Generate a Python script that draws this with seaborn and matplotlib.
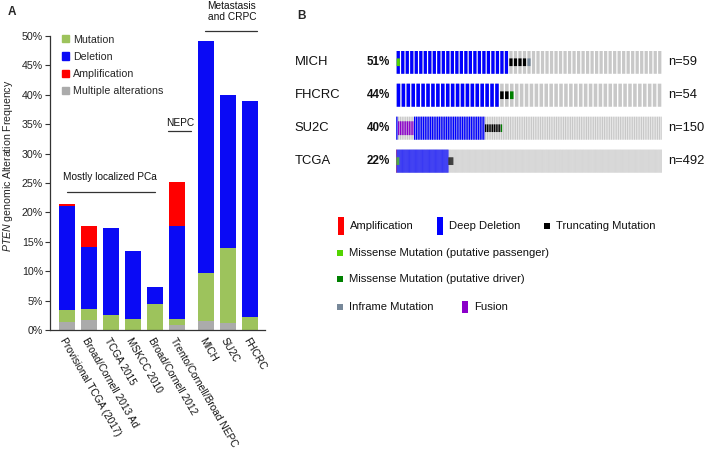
import numpy as np
import pandas as pd
import seaborn as sns
import matplotlib.pyplot as plt
import matplotlib.transforms as mtransforms
from matplotlib.patches import Patch, Rectangle

# ---- panel A data (percent of cases) ----
studies = ["Provisional TCGA (2017)", "Broad/Cornell 2013 Ad", "TCGA 2015",
           "MSKCC 2010", "Broad/Cornell 2012", "Trento/Cornell/Broad NEPC",
           "MICH", "SU2C", "FHCRC"]
multiple = [1.4, 1.7, 0.0, 0.0, 0.0, 0.85, 1.6, 1.25, 0.0]
mutation = [2.0, 1.8, 2.55, 1.8, 4.5, 0.95, 8.15, 12.65, 2.15]
deletion = [17.7, 10.6, 14.75, 11.7, 2.8, 15.9, 39.35, 26.1, 36.75]
amplification = [0.3, 3.6, 0.0, 0.0, 0.0, 7.4, 0.0, 0.0, 0.0]
y_ticks = [0, 5, 10, 15, 20, 25, 30, 35, 40, 45, 50]

# ---- panel B data (oncoprint rows) ----
cohorts = ["MICH", "FHCRC", "SU2C", "TCGA"]
cohort_n = [59, 54, 150, 492]
cohort_pct = ["51%", "44%", "40%", "22%"]
# runs of samples: (copy number, mutation, count)
mich_runs = [("del", "passenger", 1), ("del", None, 24), (None, "truncating", 4), (None, "inframe", 1)]
fhcrc_runs = [("del", None, 21), (None, "truncating", 2), (None, "driver", 1)]
su2c_runs = [("del", None, 1), (None, "fusion", 9), ("del", None, 40), (None, "truncating", 9), (None, "driver", 1)]
tcga_runs = [("amp", None, 1), ("del", "passenger", 5), ("del", None, 91), (None, "truncating", 9)]
cohort_runs = [mich_runs, fhcrc_runs, su2c_runs, tcga_runs]

GREEN_A, BLUE_A, RED_A, GREY_A = "#9dc35c", "#0a0af5", "#ff0000", "#ababab"
onco_colors = {"amp": "#ff0000", "del": "#0000ff", "truncating": "#000000",
               "passenger": "#53d400", "driver": "#008000", "inframe": "#778899",
               "fusion": "#8b00c9"}

sns.set_style("ticks")
plt.rcParams['font.family'] = ['Liberation Sans', 'DejaVu Sans']
plt.rcParams['mathtext.fontset'] = 'custom'
plt.rcParams['mathtext.rm'] = 'Liberation Sans'
plt.rcParams['mathtext.it'] = 'Liberation Sans:italic'

fig = plt.figure(figsize=(7.08, 4.54), dpi=100)

# ================= panel A =================
ax = fig.add_axes([50 / 708, 124 / 454, 215 / 708, 294 / 454])
idx = np.arange(len(studies))
pos = idx + 0.3 * (idx >= 6)
df = pd.DataFrame({"pos": pos, "multiple": multiple, "mutation": mutation,
                   "deletion": deletion, "amplification": amplification})
df["c_mut"] = df["multiple"] + df["mutation"]
df["c_del"] = df["c_mut"] + df["deletion"]
df["c_amp"] = df["c_del"] + df["amplification"]

for col, colr in [("c_amp", RED_A), ("c_del", BLUE_A), ("c_mut", GREEN_A), ("multiple", GREY_A)]:
    sns.barplot(data=df, x="pos", y=col, native_scale=True, color=colr,
                width=0.73, errorbar=None, linewidth=0, saturation=1, ax=ax)

ax.set_xlim(-0.77, 9.0)
ax.set_ylim(0, 50)
ax.set_yticks(y_ticks)
ax.set_yticklabels([f"{t}%" for t in y_ticks], fontsize=7.7, color="#222222")
ax.set_xticks(pos)
ax.set_xticklabels(studies, rotation=-60, ha="left", va="top",
                   rotation_mode="anchor", fontsize=7.3, color="#111111")
shift = mtransforms.ScaledTranslation(5 / 100, 0, fig.dpi_scale_trans)
for lab in ax.get_xticklabels():
    lab.set_transform(lab.get_transform() + shift)
ax.tick_params(axis="x", length=0, pad=4)
ax.tick_params(axis="y", length=3.6, width=0.8, pad=1.5, color="#333333")
sns.despine(ax=ax)
for s in ["left", "bottom"]:
    ax.spines[s].set_color("#333333")
    ax.spines[s].set_linewidth(0.9)
ax.set_xlabel("")
ax.set_ylabel(r"$\it{PTEN}$ genomic Alteration Frequency", fontsize=7.6, color="#222222")
ax.yaxis.set_label_coords(-0.165, 0.56)

leg = ax.legend(handles=[Patch(color=GREEN_A, label="Mutation"),
                         Patch(color=BLUE_A, label="Deletion"),
                         Patch(color=RED_A, label="Amplification"),
                         Patch(color=GREY_A, label="Multiple alterations")],
                loc="upper left", bbox_to_anchor=(0.056, 1.005), frameon=False,
                fontsize=7.7, handlelength=0.65, handleheight=0.65,
                handletextpad=0.4, labelspacing=0.68, borderpad=0, borderaxespad=0)

ann = dict(fontsize=7.3, ha="center", va="center", color="#111111", clip_on=False)
ax.plot([0, 4], [23.5, 23.5], color="#333333", lw=0.9, clip_on=False)
ax.text(1.95, 26.0, "Mostly localized PCa", **ann)
ax.plot([4.59, 5.64], [33.8, 33.8], color="#333333", lw=0.9, clip_on=False)
ax.text(5.14, 35.2, "NEPC", **ann)
ax.plot([6.27, 8.64], [50.85, 50.85], color="#333333", lw=0.9, clip_on=False)
ax.text(7.5, 54.1, "Metastasis\nand CRPC", linespacing=1.15, **ann)

# ================= panel B =================
axb = fig.add_axes([396 / 708, (454 - 172.7) / 454, 266 / 708, 122 / 454])
axb.set_xlim(0, 1)
axb.set_ylim(3.35, -0.35)
axb.axis("off")
row_h = 0.7
for r, (name, n, pct, runs) in enumerate(zip(cohorts, cohort_n, cohort_pct, cohort_runs)):
    step = 1.0 / n
    x = (np.arange(n) + 0.5) * step
    w = step * (0.72 if n < 300 else 0.92)
    axb.bar(x, row_h, width=w, bottom=r - row_h / 2, color="#c8c8c8",
            linewidth=0, snap=False)
    cna = np.array([c for c, m, k in runs for _ in range(k)], dtype=object)
    mut = np.array([m for c, m, k in runs for _ in range(k)], dtype=object)
    xa = x[:len(cna)]
    for key in ["amp", "del"]:
        sel = cna == key
        axb.bar(xa[sel], row_h, width=w, bottom=r - row_h / 2,
                color=onco_colors[key], linewidth=0, snap=False)
    for key in ["truncating", "passenger", "driver", "inframe"]:
        sel = mut == key
        axb.bar(xa[sel], row_h / 3, width=w, bottom=r - row_h / 6,
                color=onco_colors[key], linewidth=0, snap=False)
    sel = mut == "fusion"
    axb.bar(xa[sel], row_h * 0.6, width=w, bottom=r - row_h * 0.3,
            color=onco_colors["fusion"], linewidth=0, snap=False)
    axb.text(-0.38, r, name, fontsize=9.4, ha="left", va="center", color="#111111", clip_on=False)
    axb.text(-0.022, r, pct, fontsize=8.4, fontweight="bold", ha="right", va="center",
             color="#111111", clip_on=False)
    axb.text(1.023, r, f"n={n}", fontsize=9.3, ha="left", va="center", color="#111111", clip_on=False)

# ---- overlay for panel labels and oncoprint legend (pixel coords) ----
ov = fig.add_axes([0, 0, 1, 1], zorder=-1)
ov.set_xlim(0, 708)
ov.set_ylim(454, 0)
ov.axis("off")
ov.text(8, 12, "A", fontsize=8.5, fontweight="bold", va="center")
ov.text(297, 16, "B", fontsize=8.5, fontweight="bold", va="center")

lt = dict(fontsize=8.1, va="center", ha="left", color="#111111")
legend_b = [
    ("Amplification", "amp", 338, 226, "full"),
    ("Deep Deletion", "del", 437, 226, "full"),
    ("Truncating Mutation", "truncating", 544, 226, "small"),
    ("Missense Mutation (putative passenger)", "passenger", 337, 252.5, "small"),
    ("Missense Mutation (putative driver)", "driver", 337, 279, "small"),
    ("Inframe Mutation", "inframe", 337, 307, "small"),
    ("Fusion", "fusion", 462, 307, "mid"),
]
for label, key, lx, ly, kind in legend_b:
    hh = {"full": 18, "small": 6, "mid": 12}[kind]
    ov.add_patch(Rectangle((lx, ly - hh / 2), 6, hh, color=onco_colors[key], linewidth=0))
    ov.text(lx + 12, ly, label, **lt)

fig.savefig("out.png", dpi=100)
